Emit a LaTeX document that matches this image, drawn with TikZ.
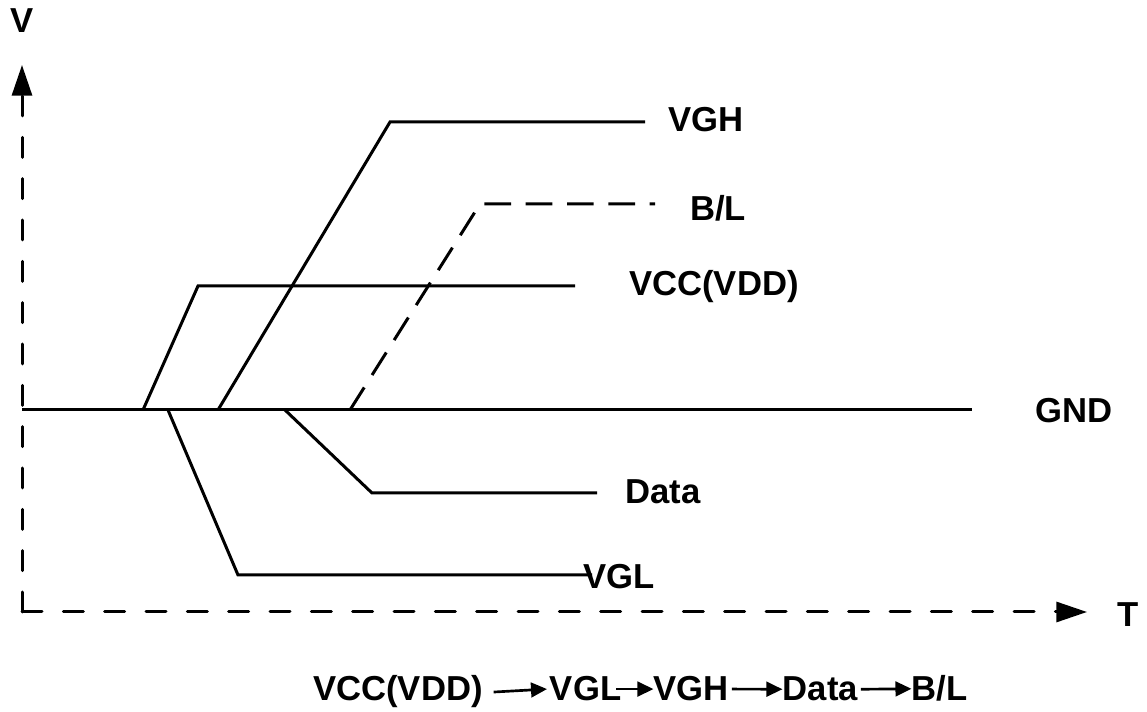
\documentclass[tikz,border=0pt]{standalone}
\usepackage{fontspec}
\setmainfont{Liberation Sans}
\usetikzlibrary{positioning, arrows.meta}

\begin{document}
\begin{tikzpicture}[
    x=0.75pt, y=-0.75pt,
    trace/.style={
        line width=2.25pt,
        line join=miter
    },
    dashtrace/.style={
        trace,
        dash pattern=on 20pt off 11pt
    },
    axis/.style={
        line width=2.25pt,
        line cap=round,
        dash pattern=on 15pt off 16pt,
        -{Triangle[length=23pt,width=15pt]}
    },
    lbl/.style={
        inner sep=0pt,
        font=\fontsize{26}{30}\selectfont\bfseries
    },
    seq/.style={
        lbl
    },
    seqarrow/.style={
        line width=2pt,
        -{Triangle[length=12pt,width=11pt]}
    }
]
\useasboundingbox (0,0) rectangle (1147,712);

% Axes
\coordinate (origin) at (22,612);
\coordinate (ytop) at (22,65);
\coordinate (xend) at (1087,612);
\draw[axis] (origin) -- (ytop);
\draw[axis] (origin) -- (xend);
\node[lbl] (vaxis) at (22,21) {V};
\node[lbl] (taxis) at (1128,615) {T};

% GND
\coordinate (gnd0) at (22,410);
\coordinate (gnd1) at (972,410);
\draw[trace] (gnd0) -- (gnd1);
\node[lbl] (gnd) at (1074,411) {GND};

% VCC(VDD)
\coordinate (vcc0) at (143,410);
\coordinate (vcc1) at (198,286);
\coordinate (vcc2) at (575,286);
\draw[trace] (vcc0) -- (vcc1) -- (vcc2);
\node[lbl] (vcc) at (714,287) {VCC(VDD)};

% VGL
\coordinate (vgl0) at (168,410);
\coordinate (vgl1) at (238,575);
\coordinate (vgl2) at (592,575);
\draw[trace] (vgl0) -- (vgl1) -- (vgl2);
\node[lbl] (vgl) at (619,577) {VGL};

% VGH
\coordinate (vgh0) at (218,410);
\coordinate (vgh1) at (390,122);
\coordinate (vgh2) at (645,122);
\draw[trace] (vgh0) -- (vgh1) -- (vgh2);
\node[lbl] (vgh) at (706,120) {VGH};

% Data
\coordinate (data0) at (285,410);
\coordinate (data1) at (372,493);
\coordinate (data2) at (597,493);
\draw[trace] (data0) -- (data1) -- (data2);
\node[lbl] (data) at (663,492) {Data};

% B/L
\coordinate (bl0) at (350,410);
\coordinate (bl1) at (480,204);
\coordinate (bl2) at (655,204);
\draw[dashtrace] (bl0) -- (bl1) -- (bl2);
\node[lbl] (bl) at (718,208) {B/L};

% Power-on sequence
\node[seq, anchor=base west] (seq1) at (313,701) {VCC(VDD)};
\node[seq, right=50pt of seq1.base east, anchor=base west] (seq2) {VGL};
\node[seq, right=24pt of seq2.base east, anchor=base west] (seq3) {VGH};
\node[seq, right=40pt of seq3.base east, anchor=base west] (seq4) {Data};
\node[seq, right=40pt of seq4.base east, anchor=base west] (seq5) {B/L};
\draw[seqarrow] ([xshift=8pt]seq1.east) -- ([xshift=-2pt]seq2.west);
\draw[seqarrow] ([xshift=-4pt]seq2.east) -- (seq3.west);
\draw[seqarrow] ([xshift=2pt]seq3.east) -- (seq4.west);
\draw[seqarrow] ([xshift=2pt]seq4.east) -- (seq5.west);

\end{tikzpicture}
\end{document}
